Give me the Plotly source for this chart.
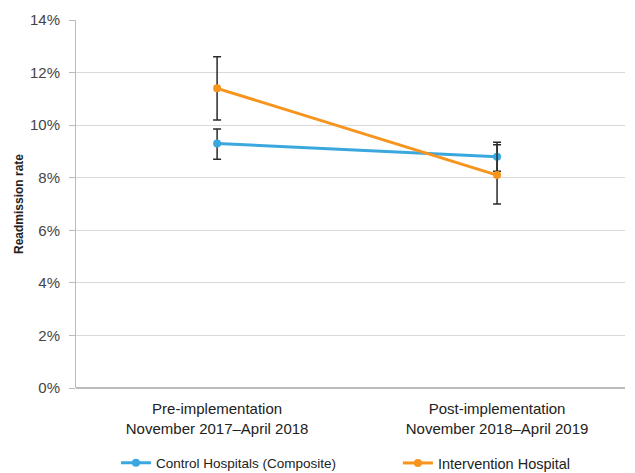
import plotly.graph_objects as go

categories = ["Pre-implementation<br>November 2017–April 2018",
              "Post-implementation<br>November 2018–April 2019"]
control = [9.3, 8.8]
control_hi = [9.85, 9.35]
control_lo = [8.7, 8.25]
interv = [11.4, 8.1]
interv_hi = [12.6, 9.25]
interv_lo = [10.2, 7.0]

def err(v, hi, lo):
    return dict(type="data", symmetric=False,
                array=[h - x for h, x in zip(hi, v)],
                arrayminus=[x - l for l, x in zip(lo, v)],
                color="#2a2a2a", thickness=1.5, width=4)

fig = go.Figure()
fig.add_trace(go.Scatter(x=categories, y=control, name="Control Hospitals (Composite)",
                         mode="lines+markers", line=dict(color="#3aa8df", width=3),
                         marker=dict(size=8, color="#3aa8df"),
                         error_y=err(control, control_hi, control_lo), legend="legend"))
fig.add_trace(go.Scatter(x=categories, y=interv, name="Intervention Hospital",
                         mode="lines+markers", line=dict(color="#f7941d", width=3),
                         marker=dict(size=8, color="#f7941d"),
                         error_y=err(interv, interv_hi, interv_lo), legend="legend2"))

leg_common = dict(orientation="h", xref="container", yref="container",
                  y=0.038, yanchor="middle", xanchor="left",
                  itemwidth=30, bgcolor="rgba(0,0,0,0)")

fig.update_layout(
    width=635, height=473,
    margin=dict(l=68, r=18, t=12, b=93, autoexpand=False),
    paper_bgcolor="white", plot_bgcolor="white",
    font=dict(family="Liberation Sans, Arial, sans-serif", size=14, color="#222222"),
    legend=dict(x=0.17, font=dict(size=13.5), **leg_common),
    legend2=dict(x=0.614, font=dict(size=14.5), **leg_common),
    showlegend=True,
)
fig.update_xaxes(showgrid=False, showline=False, ticks="", tickfont=dict(size=15),
                 range=[-0.504, 1.457], automargin=False, ticklabelstandoff=10)
fig.update_yaxes(range=[0, 14], dtick=2, ticksuffix="%", showgrid=True,
                 gridcolor="#d9d9d9", gridwidth=1, zeroline=True, zerolinecolor="#bbbbbb",
                 showline=True, linecolor="#bbbbbb", linewidth=1,
                 ticks="outside", ticklen=6, tickcolor="#bbbbbb",
                 tickfont=dict(size=15, color="#444444"), automargin=False,
                 ticklabelstandoff=6,
                 title=dict(text="<b>Readmission rate</b>", font=dict(size=12, color="#222222"),
                            standoff=3))

fig.write_html("out.html")
